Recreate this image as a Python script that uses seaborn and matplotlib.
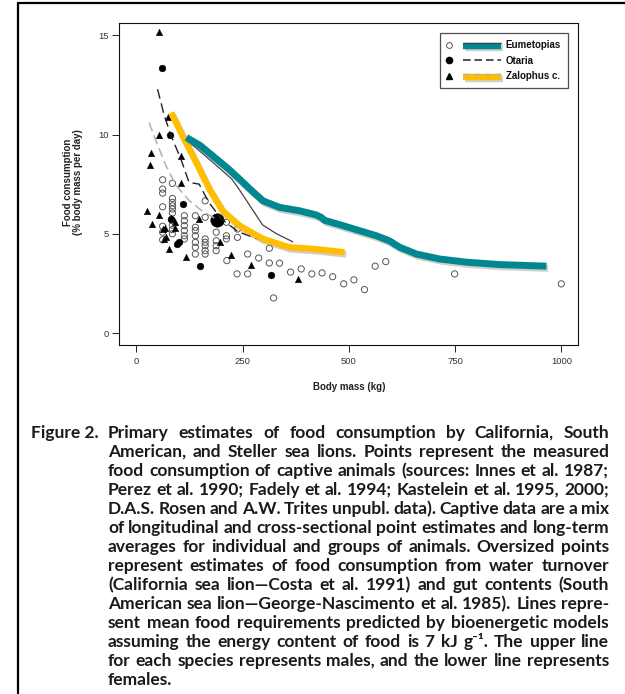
import matplotlib
matplotlib.use("Agg")
import matplotlib.pyplot as plt
import seaborn as sns
import pandas as pd
import matplotlib.patheffects as pe
from matplotlib.lines import Line2D
from matplotlib.legend_handler import HandlerBase
from matplotlib.font_manager import FontProperties

# ---------------- data ----------------
# Eumetopias (open circles)
EUM_MASS = [62, 62, 62, 62, 62, 62, 62,
            85, 85, 85, 85, 85, 85, 85, 85, 85, 85,
            113, 113, 113, 113, 113, 113,
            139, 139, 139, 139, 139, 139, 139,
            162, 162, 162, 162, 162, 162, 162,
            188, 188, 188, 188,
            212, 212, 212, 213,
            238, 238, 237, 262, 262, 288, 313, 313, 337, 363, 388, 413,
            437, 462, 488, 512, 537, 562, 587, 323, 749, 1000]
EUM_FOOD = [7.72, 7.25, 7.05, 6.36, 5.38, 5.08, 4.70,
            7.54, 6.78, 6.58, 6.41, 6.25, 6.05, 5.66, 5.44, 5.21, 5.00,
            5.91, 5.66, 5.41, 5.16, 4.90, 4.74,
            5.91, 5.33, 5.16, 4.90, 4.57, 4.32, 3.98,
            6.66, 5.83, 4.74, 4.57, 4.40, 4.15, 3.98,
            5.08, 4.65, 4.40, 4.15,
            5.58, 4.90, 4.74, 3.65,
            5.24, 4.82, 2.98, 3.98, 2.98, 3.78, 4.27, 3.53, 3.52, 3.07, 3.23, 2.98,
            3.03, 2.84, 2.48, 2.68, 2.19, 3.37, 3.60, 1.77, 2.98, 2.48]

# Otaria (filled circles)
OTA_MASS = [60, 80, 109, 101, 96, 82, 151, 318]
OTA_FOOD = [13.33, 10.0, 6.5, 4.57, 4.47, 5.74, 3.40, 2.95]
# Oversized point (water turnover / gut contents)
BIG_MASS = [190]
BIG_FOOD = [5.69]

# Zalophus c. (triangles)
ZAL_MASS = [54, 74, 54, 35, 32, 104, 105, 25, 54, 38, 68, 66, 77, 82, 90,
            70, 118, 147, 196, 223, 269, 380, 62, 90]
ZAL_FOOD = [15.16, 10.9, 10.0, 9.05, 8.47, 8.93, 7.55, 6.16, 5.94, 5.49, 5.28,
            4.74, 4.24, 5.79, 5.28, 4.82, 3.85, 5.72, 4.57, 3.95, 3.41, 2.73,
            5.24, 5.60]

# Model lines
EUM_M_MASS = [118, 150, 180, 215, 243, 270, 298, 337, 384, 423, 435, 443, 480,
              525, 565, 595, 620, 659, 714, 777, 855, 965]
EUM_M_FOOD = [9.85, 9.45, 8.92, 8.30, 7.75, 7.20, 6.66, 6.33, 6.16, 5.95, 5.83,
              5.68, 5.45, 5.16, 4.90, 4.65, 4.32, 3.98, 3.73, 3.57, 3.45, 3.37]
EUM_F_MASS = [120, 180, 225, 240, 297, 330, 368]
EUM_F_FOOD = [9.70, 8.60, 7.75, 7.30, 5.45, 5.00, 4.60]
OTA_MASS_L = [50, 66, 82, 105, 124, 148, 170, 200, 240, 280, 305]
OTA_FOOD_L = [12.28, 10.94, 9.93, 8.76, 7.59, 7.50, 6.60, 5.75, 5.10, 4.78, 4.65]
ZAL_M_MASS = [82, 109, 141, 172, 203, 243, 298, 360, 415, 490]
ZAL_M_FOOD = [11.1, 9.93, 8.59, 7.25, 6.16, 5.41, 4.74, 4.32, 4.24, 4.07]
ZAL_F_MASS = [30, 46, 70, 94, 125, 155, 188]
ZAL_F_FOOD = [10.6, 9.7, 8.42, 7.42, 6.66, 6.15, 5.74]

X_TICKS = [0, 250, 500, 750, 1000]
Y_TICKS = [0, 5, 10, 15]
LEGEND_LABELS = ["Eumetopias", "Otaria", "Zalophus c."]

CAPTION_HEAD = "Figure 2."
CAPTION_LINES = [
    "Primary estimates of food consumption by California, South",
    "American, and Steller sea lions. Points represent the measured",
    "food consumption of captive animals (sources: Innes et al. 1987;",
    "Perez et al. 1990; Fadely et al. 1994; Kastelein et al. 1995, 2000;",
    "D.A.S. Rosen and A.W. Trites unpubl. data). Captive data are a mix",
    "of longitudinal and cross-sectional point estimates and long-term",
    "averages for individual and groups of animals. Oversized points",
    "represent estimates of food consumption from water turnover",
    "(California sea lion\u2014Costa et al. 1991) and gut contents (South",
    "American sea lion\u2014George-Nascimento et al. 1985). Lines repre-",
    "sent mean food requirements predicted by bioenergetic models",
    "assuming the energy content of food is 7 kJ g\u207b\u00b9. The upper line",
    "for each species represents males, and the lower line represents",
    "females.",
]

TEAL = "#00878f"
YELLOW = "#ffbf00"

# ---------------- figure ----------------
sns.set_theme(style="white")
plt.rcParams["font.family"] = ["Liberation Sans", "DejaVu Sans"]

W, H = 625, 694
fig = plt.figure(figsize=(W / 100, H / 100), dpi=100)
fig.patch.set_facecolor("white")
ax = fig.add_axes([119.3 / W, 1 - 345 / H, 459 / W, 321.7 / H])

# outer frame (top and left)
fig.add_artist(Line2D([18 / W, 1.0], [1 - 3 / H, 1 - 3 / H], transform=fig.transFigure,
                      color="black", lw=1.6))
fig.add_artist(Line2D([18 / W, 18 / W], [1 - 3 / H, 0.0], transform=fig.transFigure,
                      color="black", lw=1.6))

shadow = [pe.SimpleLineShadow(offset=(1.2, -1.6), shadow_color="#777777", alpha=0.35),
          pe.Normal()]

# lower (background) lines
sns.lineplot(x=ZAL_F_MASS, y=ZAL_F_FOOD, sort=False, estimator=None, ax=ax,
             color="#b0b0b0", lw=1.1, linestyle=(0, (6, 3)), legend=False)

# points
sns.scatterplot(x=EUM_MASS, y=EUM_FOOD, ax=ax, marker="o", s=20,
                facecolors="none", edgecolor="#555555", linewidth=0.7, legend=False)
sns.scatterplot(x=ZAL_MASS, y=ZAL_FOOD, ax=ax, marker="^", s=22,
                color="black", edgecolor="black", linewidth=0.3, legend=False)
sns.scatterplot(x=OTA_MASS, y=OTA_FOOD, ax=ax, marker="o", s=24,
                color="black", edgecolor="black", linewidth=0.3, legend=False)
sns.scatterplot(x=BIG_MASS, y=BIG_FOOD, ax=ax, marker="o", s=95,
                color="black", edgecolor="black", linewidth=0.3, legend=False)

# model lines
sns.lineplot(x=OTA_MASS_L, y=OTA_FOOD_L, sort=False, estimator=None, ax=ax,
             color="#222222", lw=1.0, linestyle=(0, (7, 3.5)), legend=False)
sns.lineplot(x=EUM_F_MASS, y=EUM_F_FOOD, sort=False, estimator=None, ax=ax,
             color="#444444", lw=0.9, legend=False)
sns.lineplot(x=ZAL_M_MASS, y=ZAL_M_FOOD, sort=False, estimator=None, ax=ax,
             color=YELLOW, lw=4.6, legend=False, path_effects=shadow,
             solid_capstyle="butt")
sns.lineplot(x=EUM_M_MASS, y=EUM_M_FOOD, sort=False, estimator=None, ax=ax,
             color=TEAL, lw=5.0, legend=False, path_effects=shadow,
             solid_capstyle="butt")

ax.set_xlim(-40, 1040)
ax.set_ylim(-0.6, 15.6)
ax.set_xticks(X_TICKS)
ax.set_xticklabels([str(v) for v in X_TICKS])
ax.set_yticks(Y_TICKS)
ax.set_yticklabels([str(v) for v in Y_TICKS])
ax.tick_params(axis="both", direction="out", length=5, width=0.7, color="#222222",
               labelsize=6.8, labelcolor="#333333", bottom=True, left=True)
ax.tick_params(axis="y", pad=2.5)
ax.tick_params(axis="x", pad=4)
for sp in ax.spines.values():
    sp.set_visible(True)
    sp.set_color("#111111")
    sp.set_linewidth(0.8)
ax.grid(False)

ax.set_xlabel("Body mass (kg)", fontsize=7, fontweight="bold", color="#222222")
ax.xaxis.set_label_coords(0.5, -0.115)
ax.set_ylabel("Food consumption\n(% body mass per day)", fontsize=7, fontweight="bold",
              color="#222222", linespacing=1.1)
ax.yaxis.set_label_coords(-0.078, 0.505)


# ---------------- legend ----------------
class Spec:
    def __init__(self, marker_kw, line_kws):
        self.marker_kw = marker_kw
        self.line_kws = line_kws


class MarkerLineHandler(HandlerBase):
    def create_artists(self, legend, orig_handle, xdescent, ydescent, width, height,
                       fontsize, trans):
        y = height / 2 - ydescent
        x0 = -xdescent
        arts = []
        for kw, dy in orig_handle.line_kws:
            ln = Line2D([x0 + 0.30 * width, x0 + width], [y + dy, y + dy], **kw)
            ln.set_transform(trans)
            arts.append(ln)
        mk = Line2D([x0 + 0.04 * width], [y], linestyle="none", **orig_handle.marker_kw)
        mk.set_transform(trans)
        arts.append(mk)
        return arts


h_eum = Spec(dict(marker="o", markersize=4.2, markerfacecolor="none",
                  markeredgecolor="#555555", markeredgewidth=0.7),
             [(dict(color=TEAL, lw=4.6, solid_capstyle="butt", path_effects=shadow), -1.0),
              (dict(color="#444444", lw=0.9), 1.2)])
h_ota = Spec(dict(marker="o", markersize=4.5, markerfacecolor="black",
                  markeredgecolor="black"),
             [(dict(color="#222222", lw=1.1, linestyle=(0, (5, 2.5))), 0.0)])
h_zal = Spec(dict(marker="^", markersize=4.5, markerfacecolor="black",
                  markeredgecolor="black"),
             [(dict(color=YELLOW, lw=4.6, solid_capstyle="butt", path_effects=shadow), -1.0),
              (dict(color="#b0b0b0", lw=1.0, linestyle=(0, (5, 2.5))), 1.2)])

leg = ax.legend([h_eum, h_ota, h_zal], LEGEND_LABELS,
                handler_map={Spec: MarkerLineHandler()},
                loc="upper right", bbox_to_anchor=(0.978, 0.970), borderaxespad=0,
                frameon=True, fancybox=False, shadow=False, fontsize=7,
                prop=dict(weight="bold", size=7), handlelength=5.6,
                handletextpad=0.45, labelspacing=0.55, borderpad=0.75)
leg.get_frame().set_edgecolor("#222222")
leg.get_frame().set_linewidth(0.9)
for t in leg.get_texts():
    t.set_color("#111111")

# ---------------- caption (justified) ----------------
fig.canvas.draw()
renderer = fig.canvas.get_renderer()
cap_family = ["Lato", "DejaVu Sans"]
x_left, x_right = 108.0, 609.0
avail = x_right - x_left


def wid(s, fp):
    w, h, d = renderer.get_text_width_height_descent(s, fp, ismath=False)
    return w


size = 13.0
while True:
    fp = FontProperties(family=cap_family, weight="bold", size=size)
    sp = wid("x x", fp) - wid("xx", fp)
    natural = max(sum(wid(w, fp) for w in ln.split()) + sp * 0.75 * (len(ln.split()) - 1)
                  for ln in CAPTION_LINES[:-1])
    if natural <= avail or size < 7:
        break
    size -= 0.1

y0, dy = 433.5 + 4.5, 19.0   # baselines
fig.text(31 / W, 1 - y0 / H, CAPTION_HEAD, fontproperties=fp, ha="left", va="baseline",
         color="#1a1a1a")
for i, line in enumerate(CAPTION_LINES):
    words = line.split()
    widths = [wid(w, fp) for w in words]
    y = y0 + i * dy
    if i < len(CAPTION_LINES) - 1 and len(words) > 1:
        gap = (avail - sum(widths)) / (len(words) - 1)
    else:
        gap = sp
    x = x_left
    for w, ww in zip(words, widths):
        fig.text(x / W, 1 - y / H, w, fontproperties=fp, ha="left", va="baseline",
                 color="#1a1a1a")
        x += ww + gap

fig.savefig("out.png", dpi=100)
